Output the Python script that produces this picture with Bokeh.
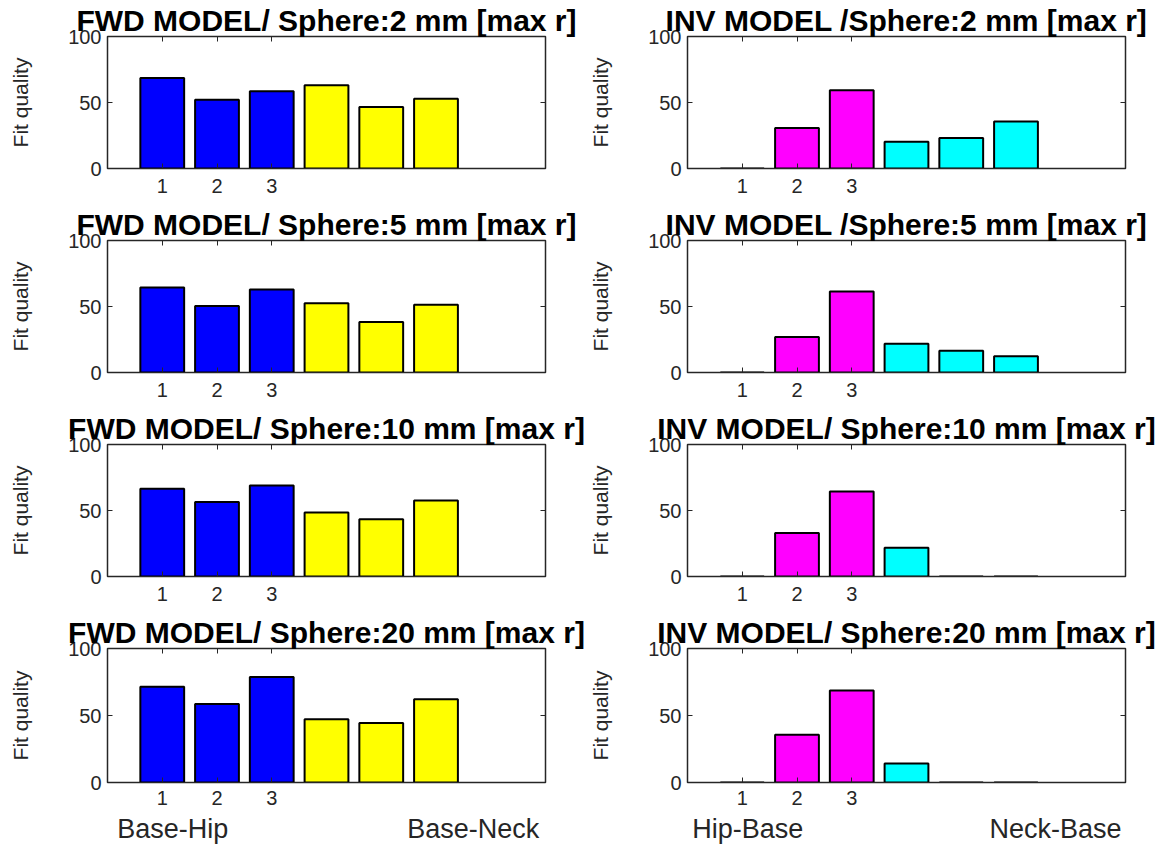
from bokeh.plotting import figure
from bokeh.layouts import gridplot
from bokeh.models import Range1d, FixedTicker, LinearAxis, ColumnDataSource
from bokeh.embed import file_html
from bokeh.resources import INLINE

# ---------------- data ----------------
bar_positions = [1, 2, 3, 4, 5, 6]
x_tick_values = [1, 2, 3]
y_tick_values = [0, 50, 100]

fwd_titles = ["FWD MODEL/ Sphere:2 mm [max r]", "FWD MODEL/ Sphere:5 mm [max r]",
              "FWD MODEL/ Sphere:10 mm [max r]", "FWD MODEL/ Sphere:20 mm [max r]"]
inv_titles = ["INV MODEL /Sphere:2 mm [max r]", "INV MODEL /Sphere:5 mm [max r]",
              "INV MODEL/ Sphere:10 mm [max r]", "INV MODEL/ Sphere:20 mm [max r]"]

fwd_2mm = [68.6, 52.0, 58.5, 63.0, 46.5, 52.8]
fwd_5mm = [64.4, 50.4, 62.9, 52.4, 38.3, 51.4]
fwd_10mm = [66.5, 56.5, 69.0, 48.5, 43.3, 57.5]
fwd_20mm = [71.4, 58.5, 78.8, 47.2, 44.4, 62.2]

inv_2mm = [0.0, 30.7, 59.2, 20.2, 23.2, 35.7]
inv_5mm = [0.0, 26.8, 61.4, 21.8, 16.5, 12.3]
inv_10mm = [0.0, 33.0, 64.3, 21.8, 0.0, 0.0]
inv_20mm = [0.0, 35.6, 68.6, 14.1, 0.0, 0.0]

fwd_colors = ["#0000FF", "#0000FF", "#0000FF", "#FFFF00", "#FFFF00", "#FFFF00"]
inv_colors = ["#FF00FF", "#FF00FF", "#FF00FF", "#00FFFF", "#00FFFF", "#00FFFF"]

fwd_group_labels = ["Base-Hip", "Base-Neck"]
inv_group_labels = ["Hip-Base", "Neck-Base"]
fwd_group_pos = [1.19, 6.68]
inv_group_pos = [1.10, 6.72]

y_label = "Fit quality"

FONT = "Liberation Sans"
AX_COLOR = "#262626"


def make_panel(title, values, colors, left_col, last_row, group_labels, group_pos):
    height = 234 if last_row else 204
    width = 584 if left_col else 585
    p = figure(width=width, height=height, output_backend="svg", toolbar_location=None,
               x_range=Range1d(0, 8), y_range=Range1d(0, 100), title=title)
    p.min_border_left = 107 if left_col else 103
    p.min_border_right = 39 if left_col else 44
    p.min_border_top = 36
    p.min_border_bottom = 63 if last_row else 36
    p.background_fill_color = "white"
    p.border_fill_color = "white"
    p.outline_line_color = AX_COLOR
    p.outline_line_width = 1.5
    p.xgrid.visible = False
    p.ygrid.visible = False

    p.title.text_font = FONT
    p.title.text_font_size = "30px"
    p.title.text_font_style = "bold"
    p.title.text_color = "black"
    p.title.align = "center"
    p.title.standoff = 0
    p.title.offset = 0

    src = ColumnDataSource(dict(x=bar_positions, top=values, color=colors))
    p.vbar(x="x", top="top", bottom=0, width=0.8, fill_color="color",
           line_color="black", line_width=2, source=src)

    # left axis
    ya = p.yaxis[0]
    ya.ticker = FixedTicker(ticks=y_tick_values)
    ya.minor_tick_line_color = None
    ya.major_tick_in = 5
    ya.major_tick_out = 0
    ya.axis_line_color = AX_COLOR
    ya.major_tick_line_color = AX_COLOR
    ya.major_label_text_font = FONT
    ya.major_label_text_font_size = "20px"
    ya.major_label_text_color = AX_COLOR
    ya.major_label_standoff = 6
    ya.axis_label = y_label
    ya.axis_label_text_font = FONT
    ya.axis_label_text_font_size = "21px"
    ya.axis_label_text_font_style = "normal"
    ya.axis_label_text_color = AX_COLOR
    ya.axis_label_standoff = 33

    # bottom axis
    xa = p.xaxis[0]
    xa.ticker = FixedTicker(ticks=x_tick_values)
    xa.minor_tick_line_color = None
    xa.major_tick_in = 5
    xa.major_tick_out = 0
    xa.axis_line_color = AX_COLOR
    xa.major_tick_line_color = AX_COLOR
    xa.major_label_text_font = FONT
    xa.major_label_text_font_size = "20px"
    xa.major_label_text_color = AX_COLOR
    xa.major_label_standoff = 8 if last_row else 10

    # mirrored ticks (box on): drawn as minor ticks so that no labels are produced
    ra = LinearAxis(ticker=FixedTicker(ticks=[], minor_ticks=y_tick_values),
                    major_tick_line_color=None, minor_tick_in=5, minor_tick_out=0,
                    axis_line_color=None, minor_tick_line_color=AX_COLOR, major_label_standoff=0)
    p.add_layout(ra, "right")
    ta = LinearAxis(ticker=FixedTicker(ticks=[], minor_ticks=x_tick_values),
                    major_tick_line_color=None, minor_tick_in=5, minor_tick_out=0,
                    axis_line_color=None, minor_tick_line_color=AX_COLOR, major_label_standoff=0)
    p.add_layout(ta, "above")

    if last_row:
        ga = LinearAxis(ticker=FixedTicker(ticks=group_pos),
                        major_label_overrides={pos: lab for pos, lab in zip(group_pos, group_labels)},
                        axis_line_color=None, major_tick_line_color=None, minor_tick_line_color=None,
                        major_label_text_font=FONT, major_label_text_font_size="27px",
                        major_label_text_color=AX_COLOR, major_label_standoff=0)
        p.add_layout(ga, "below")
    return p


fwd_values = [fwd_2mm, fwd_5mm, fwd_10mm, fwd_20mm]
inv_values = [inv_2mm, inv_5mm, inv_10mm, inv_20mm]

rows = []
for i in range(4):
    last = (i == 3)
    left = make_panel(fwd_titles[i], fwd_values[i], fwd_colors, True, last, fwd_group_labels, fwd_group_pos)
    right = make_panel(inv_titles[i], inv_values[i], inv_colors, False, last, inv_group_labels, inv_group_pos)
    rows.append([left, right])

grid = gridplot(rows, toolbar_location=None)

open("out.html", "w").write(file_html(grid, INLINE))
